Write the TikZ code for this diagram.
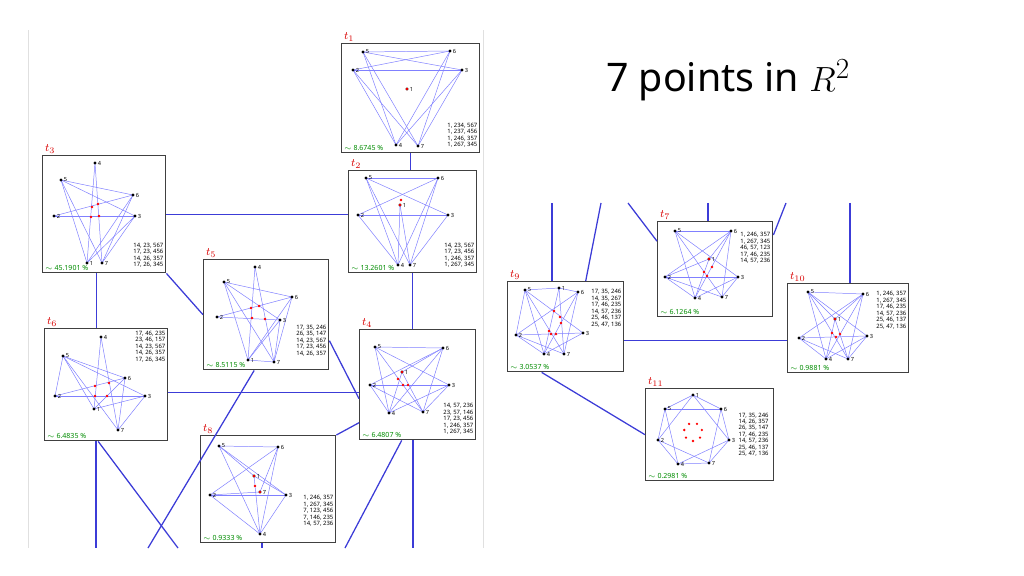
\documentclass[tikz,border=0pt]{standalone}
\usepackage{fontspec}
\setmainfont{Noto Sans}
\usetikzlibrary{calc}
\tikzset{
  cfgframe/.style={draw=black!75, line width=1pt, fill=white, inner sep=0pt, anchor=north west},
  cfgedge/.style={draw=blue!50, line width=0.35pt},
  link/.style={draw={rgb,255:red,60;green,60;blue,215}, line width=0.9pt},
  ptnum/.style={font=\fontsize{4}{4}\selectfont, inner sep=0pt, anchor=west, xshift=1.8pt},
  tname/.style={text=red!85!black, font=\fontsize{8}{8}\selectfont, anchor=south west, inner sep=1pt},
  pct/.style={text=green!55!black, font=\fontsize{5}{5}\selectfont, anchor=south west, inner sep=2pt},
  cfglist/.style={font=\fontsize{4.2}{4.6}\selectfont, align=left, inner sep=2pt}
}
% points, edges and red crossings of one configuration
\newcommand{\cfgdraw}[4]{%
  \foreach \n/\a/\b in {#2} \coordinate (#1\n) at (\a,\b);
  \foreach \i/\j in {#3} \draw[cfgedge] (#1\i) -- (#1\j);
  \foreach \n/\a/\b in {#2} {\fill (#1\n) circle (1.2pt); \node[ptnum] at (#1\n) {\n};}
  \foreach \a/\b in {#4} \fill[red] (\a,\b) circle (0.9pt);
}
\newcommand{\cfgbox}[5]{% name, w, h, index, percent
  \node[cfgframe, minimum width=#2*0.025cm, minimum height=#3*0.025cm] (#1) at (0,0) {};
  \node[tname] at ([xshift=1pt]#1.north west) {$t_{#4}$};
  \node[pct] at (#1.south west) {$\sim$ #5 \%};
}
\begin{document}
\begin{tikzpicture}[x=0.025cm, y=-0.025cm]
  \useasboundingbox (0,0) rectangle (1024,576);
  \draw[black!12] (28,30) -- (28,548) (483,30) -- (483,548);
  \node[font=\fontsize{28}{28}\selectfont] (title) at (728,80) {7 points in $R^2$};

  % t1
  \begin{scope}[shift={(341,43)}]
    \cfgbox{t1}{138}{109}{1}{8.6745}
    \cfgdraw{a}{5/22/9,6/109/8,2/12/27,3/121/27,1/66/46,4/55/102,7/77/103}
      {5/6,2/3,5/3,2/6,5/4,5/7,6/4,6/7,2/4,2/7,3/4,3/7}{66/46}
    \node[cfglist, anchor=south east] at ([yshift=2pt]t1.south east) {1, 234, 567\\1, 237, 456\\1, 246, 357\\1, 267, 345};
  \end{scope}
  % t2
  \begin{scope}[shift={(348,170)}]
    \cfgbox{t2}{128}{102}{2}{13.2601}
    \cfgdraw{b}{5/18/8,6/90/8,2/10/45,3/100/45,1/52/35,4/50/95,7/62/95}
      {5/6,2/3,5/3,2/6,5/4,5/7,6/4,6/7,2/4,3/7,1/4,1/7}{52/35,53/30}
    \node[cfglist, anchor=south east] at ([yshift=2pt]t2.south east) {14, 23, 567\\17, 23, 456\\1, 246, 357\\1, 267, 345};
  \end{scope}
  % t3
  \begin{scope}[shift={(42,155)}]
    \cfgbox{t3}{123}{117}{3}{45.1901}
    \cfgdraw{c}{4/53/8,5/19/25,6/91/40,2/12/61,3/93/61,1/45/108,7/60/108}
      {5/6,5/3,2/6,2/3,5/1,5/7,6/1,6/7,3/1,3/7,4/1,4/7}{50/52,56/49,49/62,57/61}
    \node[cfglist, anchor=south east] at ([yshift=2pt]t3.south east) {14, 23, 567\\17, 23, 456\\14, 26, 357\\17, 26, 345};
  \end{scope}
  % t5
  \begin{scope}[shift={(203,259)}]
    \cfgbox{t5}{125}{110}{5}{8.5115}
    \cfgdraw{d}{4/52/8,5/21/23,6/89/38,2/14/58,3/77/61,1/45/101,7/71/103}
      {5/6,5/3,2/6,2/3,5/1,5/7,6/1,6/7,3/1,3/7,4/1,4/7,1/7}{48/49,56/47,49/59,62/60}
    \node[cfglist, anchor=south east] at ([yshift=8pt]t5.south east) {17, 35, 246\\26, 35, 147\\14, 23, 567\\17, 23, 456\\14, 26, 357};
  \end{scope}
  % t6
  \begin{scope}[shift={(44,328)}]
    \cfgbox{t6}{123}{112}{6}{6.4835}
    \cfgdraw{e}{4/57/9,5/19/28,6/81/50,2/11/68,3/101/68,1/50/81,7/74/102}
      {5/6,5/3,2/6,2/3,5/1,5/7,6/1,6/7,3/1,3/7,4/1,4/7,2/5}{51/58,65/55,51/68,63/68}
    \node[cfglist, anchor=north east] at (t6.north east) {17, 46, 235\\23, 46, 157\\14, 23, 567\\14, 26, 357\\17, 26, 345};
  \end{scope}
  % t4
  \begin{scope}[shift={(359,329)}]
    \cfgbox{t4}{116}{110}{4}{6.4807}
    \cfgdraw{f}{5/16/18,6/84/19,2/11/56,3/90/56,1/43/43,4/30/84,7/64/83}
      {5/6,2/3,5/3,2/6,5/4,5/7,6/4,6/7,2/4,2/7,3/4,3/7,1/4,1/7,6/1}{43/43,39/50,44/56,49/56}
    \node[cfglist, anchor=south east] at ([yshift=2pt]t4.south east) {14, 57, 236\\23, 57, 146\\17, 23, 456\\1, 246, 357\\1, 267, 345};
  \end{scope}
  % t8
  \begin{scope}[shift={(200,435)}]
    \cfgbox{t8}{135}{107}{8}{0.9333}
    \cfgdraw{g}{5/19/11,6/78/12,2/10/60,3/86/60,4/60/99,1/54/41,7/60/57}
      {5/6,5/3,5/4,6/2,6/4,2/3,2/4,3/4,5/1,6/7,1/4,2/7,3/1}{54/41,55/51,60/57}
    \node[cfglist, anchor=south east] at ([yshift=10pt]t8.south east) {1, 246, 357\\1, 267, 345\\7, 123, 456\\7, 146, 235\\14, 57, 236};
  \end{scope}
  % t7
  \begin{scope}[shift={(657,221)}]
    \cfgbox{t7}{115}{95}{7}{6.1264}
    \cfgdraw{h}{5/18/10,6/74/10,2/8/56,3/81/56,1/52/38,4/38/77,7/65/76}
      {5/6,2/3,5/3,2/6,5/4,5/7,6/4,6/7,2/4,2/7,3/4,3/7,1/4,1/2,6/1}{52/38,55/46,47/51,50/55}
    \node[cfglist, anchor=north east] at ([yshift=-6pt]t7.north east) {1, 246, 357\\1, 267, 345\\46, 57, 123\\17, 46, 235\\14, 57, 236};
  \end{scope}
  % t9
  \begin{scope}[shift={(507,281)}]
    \cfgbox{t9}{116}{90}{9}{3.0537}
    \cfgdraw{k}{5/18/9,1/52/7,6/71/11,2/9/54,3/76/52,4/37/73,7/57/73}
      {5/1,1/6,5/3,2/6,5/4,5/7,6/4,6/7,2/4,2/7,2/3,3/4,1/4,1/7,2/5}{47/30,53/36,54/42,42/50,44/53,49/53}
    \node[cfglist, anchor=north east] at ([yshift=-4pt]t9.north east) {17, 35, 246\\14, 35, 267\\17, 46, 235\\14, 57, 236\\25, 46, 137\\25, 47, 136};
  \end{scope}
  % t10
  \begin{scope}[shift={(787,283)}]
    \cfgbox{t10}{121}{89}{10}{0.9881}
    \cfgdraw{m}{5/21/9,6/76/11,2/12/55,3/80/53,1/48/36,4/39/76,7/61/76}
      {5/6,2/3,5/3,2/6,5/4,5/7,6/4,6/7,2/4,2/7,3/4,3/7,1/4,1/7,5/1,6/1}{48/36,45/50,49/54,53/51}
    \node[cfglist, anchor=north east] at ([yshift=-4pt]t10.north east) {1, 246, 357\\1, 267, 345\\17, 46, 235\\14, 57, 236\\25, 46, 137\\25, 47, 136};
  \end{scope}
  % t11
  \begin{scope}[shift={(645,388)}]
    \cfgbox{t11}{128}{92}{11}{0.2981}
    \cfgdraw{n}{1/48/7,6/76/21,3/84/52,7/64/75,4/33/76,2/13/52,5/20/21}
      {1/6,6/3,3/7,7/4,4/2,2/5,5/1,1/3,6/7,3/4,7/2,4/5,2/1,5/6}{}
    \foreach \k in {0,...,6} \fill[red] ($(48,44)+(90+\k*51.43:9)$) circle (0.9pt);
    \node[cfglist, anchor=east] at ([xshift=-2pt]t11.east) {17, 35, 246\\14, 26, 357\\26, 35, 147\\17, 46, 235\\14, 57, 236\\25, 46, 137\\25, 47, 136};
  \end{scope}

  % connectors, left panel
  \coordinate (l1) at (96,548);
  \coordinate (l2) at (178,548);
  \coordinate (l3) at (148,548);
  \coordinate (l4) at (345,548);
  \coordinate (l5) at (413,548);
  \coordinate (l6) at (262,548);
  \draw[link] (t1.south) -- (t1.south |- t2.north);
  \draw[link] (t3.east) -- (t3.east -| t2.west);
  \draw[link] ([xshift=-0.2cm]t3.south) -- ([xshift=-0.2cm]t3.south |- t6.north);
  \draw[link] (t3.south east) -- (t5.west);
  \draw[link] (t2.south) -- (t2.south |- t4.north);
  \draw[link] ([yshift=-0.65cm]t5.east) -- ([yshift=-0.35cm]t4.west);
  \draw[link] ([yshift=-0.2cm]t6.east) -- ([yshift=-0.2cm]t6.east -| t4.west);
  \draw[link] ([yshift=-0.95cm]t4.west) -- (t8.north east);
  \draw[link] (t6.south -| l1) -- (l1);
  \draw[link] ([xshift=-0.2cm]t6.south) -- (l2);
  \draw[link] ([xshift=-0.3cm]t5.south) -- (l3);
  \draw[link] ([xshift=-0.4cm]t4.south) -- (l4);
  \draw[link] (t4.south -| l5) -- (l5);
  \draw[link] (t8.south -| l6) -- (l6);
  % connectors, right panel
  \coordinate (r1) at (552,203);
  \coordinate (r2) at (601,203);
  \coordinate (r3) at (628,203);
  \coordinate (r4) at (708,203);
  \coordinate (r5) at (786,203);
  \coordinate (r6) at (850,203);
  \draw[link] (r1) -- (r1 |- t9.north);
  \draw[link] (r2) -- ([xshift=0.5cm]t9.north);
  \draw[link] (r3) -- ([yshift=0.7cm]t7.west);
  \draw[link] (r4) -- (r4 |- t7.north);
  \draw[link] (r5) -- ([yshift=-0.35cm]t7.north east);
  \draw[link] (r6) -- (r6 |- t10.north);
  \draw[link] ([yshift=-0.35cm]t9.east) -- ([yshift=-0.35cm]t9.east -| t10.west);
  \draw[link] ([xshift=-0.6cm]t9.south) -- (t11.west);
\end{tikzpicture}
\end{document}
